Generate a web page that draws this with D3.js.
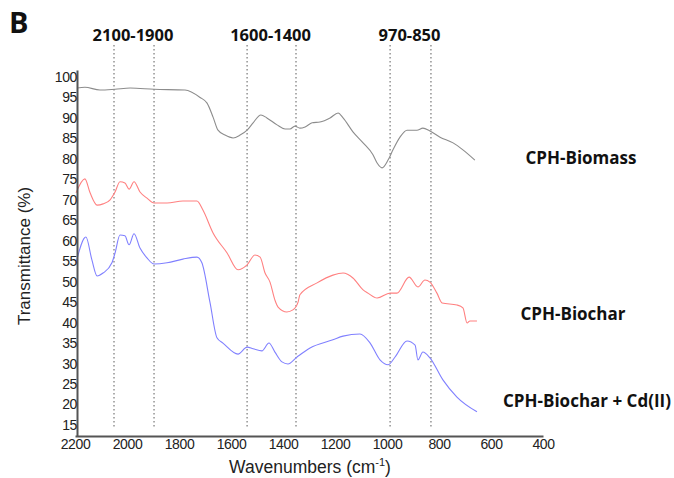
<!DOCTYPE html>
<html>
<head>
<meta charset="utf-8">
<script src="https://cdn.jsdelivr.net/npm/d3@7"></script>
<style>
  body { margin: 0; background: #fff; }
  svg text { font-family: "Liberation Sans", Arial, sans-serif; }
  .tick text { font-size: 14px; letter-spacing: -0.4px; fill: #222; }
  .bold { font-family: "Open Sans", "DejaVu Sans", sans-serif !important; font-weight: 700; }
</style>
</head>
<body>
<svg id="chart" width="674" height="478"></svg>
<script>
// wavenumber (cm-1), transmittance (%)
var biomass = [
  [2192, 97.3], [2162, 97.5], [2104, 96.8], [2046, 97.0], [1988, 97.3], [1896, 97.0],
  [1777, 96.8], [1719, 95.0], [1692, 93.6], [1669, 90.2], [1650, 87.0], [1623, 85.8],
  [1592, 85.1], [1565, 85.8], [1538, 87.0], [1515, 88.8], [1485, 90.7], [1462, 90.0],
  [1423, 88.3], [1392, 87.3], [1373, 87.3], [1354, 88.0], [1335, 87.5], [1315, 87.8],
  [1288, 88.8], [1258, 89.0], [1219, 90.0], [1188, 91.2], [1169, 90.0], [1131, 86.6],
  [1092, 83.9], [1054, 81.0], [1038, 79.0], [1019, 77.8], [996, 79.7], [977, 82.2],
  [950, 85.3], [923, 87.0], [885, 87.0], [862, 87.5], [835, 86.8], [796, 85.3],
  [746, 83.9], [708, 82.2], [662, 79.7]
];
var biochar = [
  [2196, 71.7], [2162, 75.1], [2142, 71.7], [2115, 68.7], [2092, 69.0], [2065, 70.0],
  [2046, 71.9], [2027, 74.4], [2008, 74.1], [1992, 72.6], [1973, 74.4], [1950, 71.9],
  [1923, 70.4], [1896, 69.2], [1846, 69.2], [1785, 69.7], [1731, 69.7], [1708, 67.5],
  [1669, 61.9], [1615, 57.0], [1573, 52.9], [1538, 54.1], [1508, 56.5], [1488, 56.0],
  [1469, 52.1], [1450, 49.9], [1431, 45.5], [1419, 43.8], [1385, 42.6], [1362, 43.1],
  [1342, 45.0], [1335, 46.8], [1269, 49.7], [1208, 51.6], [1169, 52.1], [1131, 50.9],
  [1092, 48.0], [1073, 47.2], [1038, 46.0], [988, 47.2], [962, 47.2], [915, 51.1],
  [881, 48.7], [854, 50.4], [835, 49.9], [808, 47.2], [788, 44.8], [731, 44.3],
  [708, 43.6], [692, 39.9], [681, 40.4], [654, 40.4]
];
var biocharCd = [
  [2196, 54.6], [2158, 60.9], [2135, 55.3], [2115, 51.4], [2092, 52.1], [2058, 54.6],
  [2046, 57.0], [2027, 61.4], [2008, 61.2], [1992, 59.0], [1973, 61.7], [1950, 58.2],
  [1923, 55.8], [1896, 54.3], [1846, 54.6], [1785, 55.5], [1731, 56.0], [1712, 54.6],
  [1681, 45.0], [1654, 36.3], [1631, 35.0], [1573, 32.3], [1538, 34.0], [1515, 33.6],
  [1481, 33.1], [1454, 35.0], [1431, 32.8], [1404, 30.4], [1381, 29.9], [1346, 31.6],
  [1296, 33.8], [1208, 35.8], [1169, 36.7], [1104, 37.2], [1065, 35.0], [1027, 30.9],
  [996, 29.7], [969, 31.6], [923, 35.5], [892, 34.5], [881, 30.9], [862, 32.8],
  [835, 31.4], [785, 26.0], [731, 21.8], [654, 18.2]
];
var seriesNames = ["CPH-Biomass", "CPH-Biochar", "CPH-Biochar + Cd(II)"];
var seriesColors = ["#8c8c8c", "#ff8080", "#8080ff"];
var xTicks = [2200, 2000, 1800, 1600, 1400, 1200, 1000, 800, 600, 400];
var yTicks = [15, 20, 25, 30, 35, 40, 45, 50, 55, 60, 65, 70, 75, 80, 85, 90, 95, 100];
var bandLines = [2050, 1896, 1538, 1350, 988, 831];
var bandLabels = ["2100-1900", "1600-1400", "970-850"];

var svg = d3.select("#chart");

var x = d3.scaleLinear().domain([2200, 400]).range([75, 543]);
var y = d3.scaleLinear().domain([12.3, 101.7]).range([436, 70]);

// dotted band markers
svg.append("g").selectAll("line")
  .data(bandLines)
  .enter().append("line")
  .attr("x1", d => x(d)).attr("x2", d => x(d))
  .attr("y1", 45).attr("y2", 428)
  .attr("stroke", "#999").attr("stroke-width", 1.6)
  .attr("stroke-dasharray", "1.6,2.4");

// label sits between its pair of lines
svg.append("g").selectAll("text")
  .data(bandLabels)
  .enter().append("text")
  .attr("class", "bold")
  .attr("x", (d, i) => (x(bandLines[2 * i]) + x(bandLines[2 * i + 1])) / 2 - 1)
  .attr("y", 41)
  .attr("text-anchor", "middle")
  .attr("font-size", 16.5)
  .attr("fill", "#111")
  .text(d => d);

// spectra
var line = d3.line()
  .x(d => x(d[0]))
  .y(d => y(d[1]))
  .curve(d3.curveMonotoneX);

svg.append("g").selectAll("path")
  .data([biomass, biochar, biocharCd])
  .enter().append("path")
  .attr("d", line)
  .attr("fill", "none")
  .attr("stroke", (d, i) => seriesColors[i])
  .attr("stroke-width", 1.1);

// axes
svg.append("g")
  .attr("transform", "translate(77,0)")
  .call(d3.axisLeft(y).tickValues(yTicks).tickSize(0).tickSizeOuter(0).tickPadding(0));
svg.append("g")
  .attr("transform", "translate(0,436)")
  .call(d3.axisBottom(x).tickValues(xTicks).tickSize(0).tickSizeOuter(0).tickPadding(3).tickFormat(d3.format("d")));
svg.selectAll(".domain").attr("stroke", "#555").attr("stroke-width", 2);

// axis titles
svg.append("text")
  .attr("transform", "translate(30,256) rotate(-90)")
  .attr("text-anchor", "middle")
  .attr("font-size", 17)
  .attr("fill", "#222")
  .text("Transmittance (%)");

var xt = svg.append("text")
  .attr("x", 310).attr("y", 473)
  .attr("text-anchor", "middle")
  .attr("font-size", 17.5)
  .attr("fill", "#222");
xt.append("tspan").text("Wavenumbers (cm");
xt.append("tspan").attr("dy", -7).attr("font-size", 11).text("-1");
xt.append("tspan").attr("dy", 7).text(")");

// series labels
var labelPos = [[581, 164], [573, 320], [587, 407]];
svg.append("g").selectAll("text")
  .data(seriesNames)
  .enter().append("text")
  .attr("class", "bold")
  .attr("x", (d, i) => labelPos[i][0])
  .attr("y", (d, i) => labelPos[i][1])
  .attr("text-anchor", "middle")
  .attr("font-size", 17)
  .attr("fill", "#111")
  .text(d => d);

// panel letter
svg.append("text")
  .attr("class", "bold")
  .attr("x", 9).attr("y", 33)
  .attr("font-size", 29)
  .attr("fill", "#111")
  .text("B");
</script>
</body>
</html>
